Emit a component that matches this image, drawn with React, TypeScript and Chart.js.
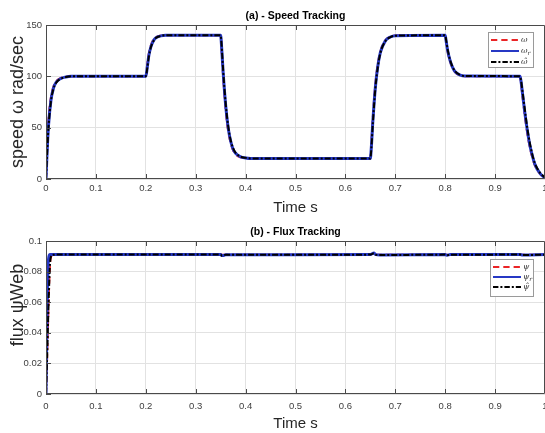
import { useEffect, useRef } from 'react';
import { Chart, registerables } from 'chart.js';

Chart.register(...registerables);

// ---------- data ----------
const speedTime = [
  0, 0.002, 0.005, 0.01, 0.015, 0.02, 0.03, 0.04, 0.05,
  0.2, 0.203, 0.206, 0.21, 0.215, 0.22, 0.23, 0.24,
  0.35, 0.352, 0.355, 0.36, 0.365, 0.37, 0.375, 0.38, 0.39, 0.4, 0.41,
  0.65, 0.652, 0.655, 0.66, 0.665, 0.67, 0.68, 0.69, 0.7,
  0.8, 0.802, 0.805, 0.81, 0.815, 0.82, 0.83, 0.84,
  0.95, 0.952, 0.955, 0.96, 0.965, 0.97, 0.975, 0.98, 0.99, 1.0,
];
const speedRef = [
  0, 30, 58, 80, 90, 95, 98.5, 99.6, 100,
  100, 112, 122, 130, 135.5, 138, 139.6, 140,
  140, 125, 100, 68, 47, 35, 28, 24, 21, 20.3, 20,
  20, 35, 60, 92, 112, 124, 135, 138.5, 139.7,
  140, 133, 124, 114, 108, 104, 101, 100.2,
  100, 93, 80, 60, 43, 30, 20, 13, 5, 1,
];
const speedActual = [
  0, 24, 52, 77, 88.5, 94, 98, 99.4, 100,
  100, 109, 120, 128.5, 134.5, 137.5, 139.4, 140,
  140, 128, 104, 72, 50, 37, 29, 25, 21.5, 20.5, 20,
  20, 31, 56, 89, 110, 123, 134.5, 138.3, 139.6,
  140, 134, 125, 115, 108.5, 104.5, 101.2, 100.3,
  100, 95, 83, 63, 46, 32, 22, 14, 5.5, 1,
];
const speedEst = [
  0, 22, 50, 76, 88, 93.5, 97.8, 99.3, 100,
  100, 108, 119, 128, 134, 137.3, 139.3, 140,
  140, 130, 106, 74, 52, 38, 30, 25.5, 21.8, 20.6, 20,
  20, 30, 54, 88, 109, 122.5, 134.2, 138.2, 139.6,
  140, 135, 126, 115.5, 109, 104.8, 101.3, 100.3,
  100, 96, 85, 66, 48, 34, 23, 15, 6, 1.5,
];

const fluxTime = [
  0, 0.002, 0.004, 0.006, 0.008, 0.01, 0.015, 0.02,
  0.2,
  0.35, 0.352, 0.355, 0.36,
  0.65, 0.654, 0.657, 0.66, 0.67,
  0.8, 0.803, 0.81,
  0.95, 0.955, 1.0,
];
const fluxRef = [
  0, 0.02, 0.044, 0.067, 0.084, 0.0895, 0.091, 0.091,
  0.091,
  0.091, 0.091, 0.091, 0.091,
  0.091, 0.091, 0.091, 0.091, 0.091,
  0.091, 0.091, 0.091,
  0.091, 0.091, 0.091,
];
const fluxActual = [
  0, 0.05, 0.082, 0.09, 0.0912, 0.0912, 0.0912, 0.0912,
  0.0912,
  0.0912, 0.0906, 0.0905, 0.091,
  0.0912, 0.0918, 0.0922, 0.0912, 0.0908,
  0.0912, 0.0907, 0.0911,
  0.0912, 0.0909, 0.0912,
];
const fluxEst = [
  0, 0.021, 0.045, 0.068, 0.085, 0.0898, 0.091, 0.0911,
  0.0911,
  0.0911, 0.0904, 0.0906, 0.091,
  0.0911, 0.0916, 0.092, 0.0911, 0.0908,
  0.0911, 0.0906, 0.091,
  0.0911, 0.0908, 0.0911,
];

const xTickLabels = ['0', '0.1', '0.2', '0.3', '0.4', '0.5', '0.6', '0.7', '0.8', '0.9', '1'];
const speedTickLabels = ['0', '50', '100', '150'];
const fluxTickLabels = ['0', '0.02', '0.04', '0.06', '0.08', '0.1'];
const speedLegend = ['ω', 'ω_r', 'ω̂'];
const fluxLegend = ['ψ', 'ψ_r', 'ψ̂'];

// ---------- styles ----------
const FONT = '"Liberation Sans", Arial, sans-serif';
const RED = 'rgb(234,36,38)';
const BLUE = 'rgb(38,56,196)';
const BLACK = '#000000';
const GRID = '#e2e2e2';
const AXIS = '#4a4a4a';
const TICK = '#404040';

type Series = { label: string; data: number[]; color: string; dash: number[]; width: number };

const framePlugin = {
  id: 'frame',
  afterDraw(chart: any, _args: any, opts: any) {
    const { ctx, chartArea } = chart;
    const { left, right, top, bottom } = chartArea;
    ctx.save();
    ctx.strokeStyle = AXIS;
    ctx.lineWidth = 1;
    ctx.setLineDash([]);
    ctx.beginPath();
    ctx.rect(Math.round(left) + 0.5, Math.round(top) + 0.5, Math.round(right - left) - 1, Math.round(bottom - top) - 1);
    ctx.stroke();
    // inward ticks
    const xs = chart.scales.x;
    const ys = chart.scales.y;
    ctx.beginPath();
    xs.ticks.forEach((t: any) => {
      const px = Math.round(xs.getPixelForValue(t.value)) + 0.5;
      ctx.moveTo(px, bottom);
      ctx.lineTo(px, bottom - 5);
      ctx.moveTo(px, top);
      ctx.lineTo(px, top + 5);
    });
    ys.ticks.forEach((t: any) => {
      const py = Math.round(ys.getPixelForValue(t.value)) + 0.5;
      ctx.moveTo(left, py);
      ctx.lineTo(left + 5, py);
    });
    ctx.stroke();

    // legend
    const lg = opts && opts.legend;
    if (lg) {
      const bx = chartArea.right - lg.right - lg.w;
      const by = chartArea.top + lg.top;
      ctx.fillStyle = '#ffffff';
      ctx.fillRect(bx, by, lg.w, lg.h);
      ctx.strokeStyle = '#9a9a9a';
      ctx.lineWidth = 1;
      ctx.strokeRect(bx + 0.5, by + 0.5, lg.w, lg.h);
      lg.series.forEach((s: Series, i: number) => {
        const cy = by + lg.first + i * lg.rowH;
        ctx.beginPath();
        ctx.setLineDash(s.dash.length ? [s.dash[0] * 0.9, ...s.dash.slice(1)] : []);
        ctx.strokeStyle = s.color;
        ctx.lineWidth = Math.min(s.width, 2);
        ctx.moveTo(bx + 3, cy);
        ctx.lineTo(bx + 31, cy);
        ctx.stroke();
        ctx.setLineDash([]);
        const parts = s.label.split('_');
        ctx.fillStyle = '#333333';
        ctx.textBaseline = 'middle';
        ctx.textAlign = 'left';
        ctx.font = 'italic 8px "DejaVu Serif", serif';
        ctx.fillText(parts[0], bx + 33, cy);
        if (parts[1]) {
          const w = ctx.measureText(parts[0]).width;
          ctx.font = 'italic 6px "DejaVu Serif", serif';
          ctx.fillText(parts[1], bx + 33 + w, cy + 2.5);
        }
      });
    }
    ctx.restore();
  },
};

type PanelProps = {
  height: number;
  title: string;
  titlePad: { top: number; bottom: number };
  yTitle: string;
  time: number[];
  series: Series[];
  yMin: number;
  yMax: number;
  yStep: number;
  yLabels: string[];
  xHeight: number;
  xTickPad: number;
  xTitlePadBottom: number;
  legend: any;
};

function Panel(p: PanelProps) {
  const ref = useRef<HTMLCanvasElement | null>(null);
  useEffect(() => {
    if (!ref.current) return;
    const drawOrder = [...p.series].reverse();
    const chart = new Chart(ref.current, {
      type: 'line',
      data: {
        datasets: drawOrder.map((s) => ({
          label: s.label,
          data: p.time.map((t, i) => ({ x: t, y: s.data[i] })),
          borderColor: s.color,
          backgroundColor: s.color,
          borderDash: s.dash,
          borderWidth: s.width,
          pointRadius: 0,
          fill: false,
          cubicInterpolationMode: 'monotone' as const,
        })),
      },
      plugins: [framePlugin],
      options: {
        responsive: false,
        animation: false,
        devicePixelRatio: 1,
        layout: { padding: 0 },
        plugins: {
          legend: { display: false },
          tooltip: { enabled: false },
          title: {
            display: true,
            text: p.title,
            color: '#000',
            font: { family: FONT, size: 10.5, weight: 'bold' },
            padding: p.titlePad,
            fullSize: false,
          },
          frame: { legend: { ...p.legend, series: p.series } },
        } as any,
        scales: {
          x: {
            type: 'linear',
            min: 0,
            max: 1,
            border: { display: false },
            grid: { color: GRID, drawTicks: false, lineWidth: 1 },
            ticks: {
              stepSize: 0.1,
              autoSkip: false,
              maxRotation: 0,
              padding: p.xTickPad,
              color: TICK,
              font: { family: FONT, size: 9.5 },
              callback: (_v: any, i: number) => xTickLabels[i],
            },
            title: {
              display: true,
              text: 'Time s',
              color: '#262626',
              font: { family: FONT, size: 15 },
              padding: { top: 0, bottom: p.xTitlePadBottom },
            },
            afterFit: (s: any) => {
              s.height = p.xHeight;
              s.paddingLeft = 0;
              s.paddingRight = 0;
            },
          },
          y: {
            type: 'linear',
            min: p.yMin,
            max: p.yMax,
            border: { display: false },
            grid: { color: GRID, drawTicks: false, lineWidth: 1 },
            ticks: {
              stepSize: p.yStep,
              padding: 4,
              color: TICK,
              font: { family: FONT, size: 9.5 },
              callback: (_v: any, i: number) => p.yLabels[i],
            },
            title: {
              display: true,
              text: p.yTitle,
              color: '#262626',
              font: { family: FONT, size: 18 },
              padding: { top: 7, bottom: 0 },
            },
            afterFit: (s: any) => {
              s.width = 46;
              s.paddingTop = 0;
              s.paddingBottom = 0;
            },
          },
        },
      } as any,
    });
    return () => chart.destroy();
  }, []);
  return (
    <canvas
      ref={ref}
      width={545}
      height={p.height}
      style={{ display: 'block', width: 545, height: p.height }}
    />
  );
}

export default function App() {
  useEffect(() => {
    document.body.style.margin = '0';
    document.body.style.overflow = 'hidden';
    document.body.style.background = '#ffffff';
  }, []);

  const speedSeries: Series[] = [
    { label: speedLegend[0], data: speedRef, color: RED, dash: [7, 4], width: 2 },
    { label: speedLegend[1], data: speedActual, color: BLUE, dash: [], width: 3 },
    { label: speedLegend[2], data: speedEst, color: BLACK, dash: [6, 2, 2, 2], width: 2 },
  ];
  const fluxSeries: Series[] = [
    { label: fluxLegend[0], data: fluxRef, color: RED, dash: [7, 4], width: 2 },
    { label: fluxLegend[1], data: fluxActual, color: BLUE, dash: [], width: 3 },
    { label: fluxLegend[2], data: fluxEst, color: BLACK, dash: [6, 2, 2, 2], width: 2 },
  ];

  return (
    <div style={{ position: 'absolute', left: 0, top: 0, width: 545, height: 433, background: '#fff' }}>
      <Panel
        height={218}
        title="(a) - Speed Tracking"
        titlePad={{ top: 10, bottom: 2.4 }}
        yTitle="speed ω rad/sec"
        time={speedTime}
        series={speedSeries}
        yMin={0}
        yMax={150}
        yStep={50}
        yLabels={speedTickLabels}
        xHeight={39}
        xTickPad={4}
        xTitlePadBottom={1}
        legend={{ right: 12, top: 7, w: 45, h: 35, first: 8, rowH: 11 }}
      />
      <Panel
        height={215}
        title="(b) - Flux Tracking"
        titlePad={{ top: 8, bottom: 2.4 }}
        yTitle={'     flux ψWeb'}
        time={fluxTime}
        series={fluxSeries}
        yMin={0}
        yMax={0.1}
        yStep={0.02}
        yLabels={fluxTickLabels}
        xHeight={39}
        xTickPad={7}
        xTitlePadBottom={0}
        legend={{ right: 12, top: 18, w: 43, h: 37, first: 8, rowH: 10 }}
      />
    </div>
  );
}
